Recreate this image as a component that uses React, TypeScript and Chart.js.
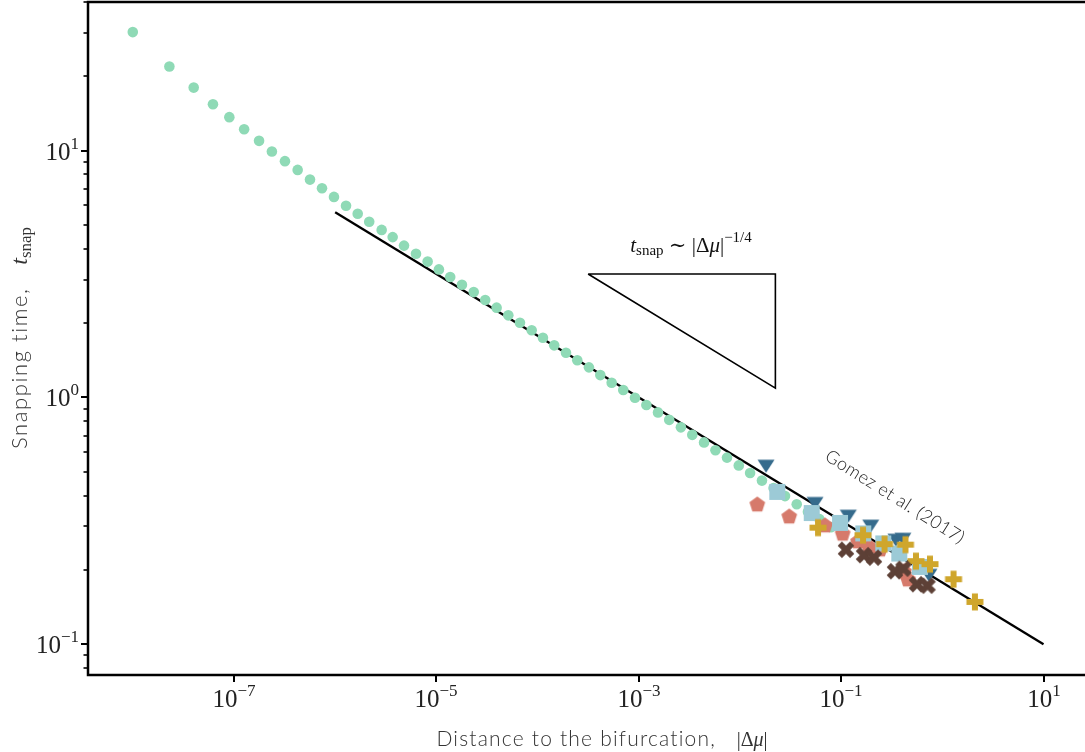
import React, { useEffect, useRef } from "react";
import { Chart, registerables } from "chart.js";
Chart.register(...registerables);

// ---- data ----
const greenX = [1.0e-8, 2.3e-8, 4.0e-8, 6.2e-8, 9.0e-8, 1.26e-7, 1.77e-7, 2.37e-7, 3.19e-7, 4.26e-7, 5.64e-7, 7.41e-7, 9.73e-7,
  1.28e-6, 1.67e-6, 2.17e-6, 2.88e-6, 3.70e-6, 4.79e-6, 6.29e-6, 8.20e-6, 1.06e-5, 1.37e-5, 1.79e-5, 2.34e-5, 3.04e-5, 3.94e-5,
  5.14e-5, 6.70e-5, 8.75e-5, 1.13e-4, 1.46e-4, 1.91e-4, 2.47e-4, 3.22e-4, 4.17e-4, 5.40e-4, 7.03e-4, 9.18e-4, 1.19e-3, 1.55e-3,
  2.00e-3, 2.61e-3, 3.38e-3, 4.42e-3, 5.73e-3, 7.45e-3, 9.74e-3, 1.26e-2, 1.65e-2, 2.15e-2, 2.79e-2, 3.64e-2, 4.70e-2, 6.11e-2, 7.94e-2];
const greenY = [30.2, 21.9, 18.0, 15.4, 13.66, 12.21, 10.95, 9.91, 9.06, 8.35, 7.63, 7.04, 6.49,
  5.98, 5.55, 5.15, 4.77, 4.46, 4.12, 3.82, 3.55, 3.30, 3.075, 2.86, 2.67, 2.48, 2.31,
  2.15, 2.007, 1.87, 1.745, 1.625, 1.517, 1.413, 1.323, 1.231, 1.146, 1.071, 0.996, 0.931, 0.869,
  0.811, 0.756, 0.705, 0.657, 0.611, 0.570, 0.530, 0.494, 0.460, 0.429, 0.398, 0.369, 0.344, 0.321, 0.298];

const triX = [0.0181, 0.0552, 0.1177, 0.196, 0.348, 0.408, 0.738];
const triY = [0.526, 0.3716, 0.330, 0.3007, 0.2638, 0.266, 0.190];

const sqX = [0.0234, 0.0512, 0.0975, 0.1656, 0.261, 0.3757, 0.6015];
const sqY = [0.414, 0.340, 0.310, 0.281, 0.256, 0.233, 0.2056];

const pentX = [0.01484, 0.0307, 0.0693, 0.1036, 0.1468, 0.1885, 0.2421, 0.418, 0.458];
const pentY = [0.369, 0.330, 0.3035, 0.281, 0.2615, 0.2494, 0.2425, 0.1975, 0.1833];

const plusX = [0.0591, 0.1645, 0.2683, 0.4325, 0.549, 0.755, 1.29, 2.10];
const plusY = [0.2965, 0.2764, 0.2542, 0.253, 0.2169, 0.2109, 0.1833, 0.1483];

const xMarkX = [0.1117, 0.1683, 0.2112, 0.3405, 0.4133, 0.562, 0.714];
const xMarkY = [0.2414, 0.2294, 0.2241, 0.1975, 0.2022, 0.1749, 0.1725];

const fitX = [1e-6, 10];
const fitY = [5.62, 0.1];

const slopeX = [3.16e-4, 2.24e-2, 2.24e-2, 3.16e-4];
const slopeY = [3.16, 3.16, 1.09, 3.16];

const xTickExps = [-7, -5, -3, -1, 1];
const yTickExps = [-1, 0, 1];
const yMinorDecades = [-2, -1, 0, 1];
const yMinorMults = [2, 3, 4, 5, 6, 7, 8, 9];

const X_MIN = 3.61e-9;
const X_MAX = 25.7;
const Y_MIN = 0.075;
const Y_MAX = 40;

const GREEN = "#8fdab6";
const TRI = "#356b8c";
const SQ = "#9ccad6";
const PENT = "#d67a6b";
const PLUS = "#cfa62c";
const XCOL = "#5d4036";

const SANS = "Lato, 'Open Sans', sans-serif";
const SERIF = "'Liberation Serif', 'DejaVu Serif', serif";

function pts(xs: number[], ys: number[]) {
  return xs.map((x, i) => ({ x, y: ys[i] }));
}

function makeMarker(kind: string, color: string): HTMLCanvasElement {
  const S = 22;
  const c = document.createElement("canvas");
  c.width = S;
  c.height = S;
  const g = c.getContext("2d")!;
  g.fillStyle = color;
  g.strokeStyle = color;
  const cx = S / 2, cy = S / 2;
  g.beginPath();
  if (kind === "tri") {
    g.moveTo(cx - 8.5, cy - 6.5);
    g.lineTo(cx + 8.5, cy - 6.5);
    g.lineTo(cx, cy + 6.5);
    g.closePath();
    g.fill();
  } else if (kind === "sq") {
    g.rect(cx - 8, cy - 8, 16, 16);
    g.fill();
  } else if (kind === "pent") {
    const r = 8.3;
    for (let i = 0; i < 5; i++) {
      const a = -Math.PI / 2 + (i * 2 * Math.PI) / 5;
      const px = cx + r * Math.cos(a), py = cy + 0.6 + r * Math.sin(a);
      if (i === 0) g.moveTo(px, py); else g.lineTo(px, py);
    }
    g.closePath();
    g.fill();
  } else if (kind === "plus") {
    const a = 8.5, t = 3;
    const poly = [[-t, -a], [t, -a], [t, -t], [a, -t], [a, t], [t, t], [t, a], [-t, a], [-t, t], [-a, t], [-a, -t], [-t, -t]];
    poly.forEach(([px, py], i) => (i === 0 ? g.moveTo(cx + px, cy + py) : g.lineTo(cx + px, cy + py)));
    g.closePath();
    g.fill();
  } else if (kind === "x") {
    g.lineWidth = 6;
    g.lineCap = "butt";
    g.moveTo(cx - 6.2, cy - 6.2);
    g.lineTo(cx + 6.2, cy + 6.2);
    g.moveTo(cx + 6.2, cy - 6.2);
    g.lineTo(cx - 6.2, cy + 6.2);
    g.stroke();
  }
  return c;
}

type Run = { t: string; font: string; dy?: number; ls?: string };

function runsWidth(ctx: CanvasRenderingContext2D, runs: Run[]) {
  let w = 0;
  for (const r of runs) {
    ctx.font = r.font;
    (ctx as any).letterSpacing = r.ls || "0px";
    w += ctx.measureText(r.t).width;
  }
  (ctx as any).letterSpacing = "0px";
  return w;
}

function drawRuns(ctx: CanvasRenderingContext2D, runs: Run[], x: number, y: number) {
  let cx = x;
  for (const r of runs) {
    ctx.font = r.font;
    (ctx as any).letterSpacing = r.ls || "0px";
    ctx.fillText(r.t, cx, y + (r.dy || 0));
    cx += ctx.measureText(r.t).width;
  }
  (ctx as any).letterSpacing = "0px";
}

function powRuns(e: number): Run[] {
  const s = e < 0 ? "\u2212" + Math.abs(e) : String(e);
  return [
    { t: "10", font: `25px ${SERIF}` },
    { t: s, font: `17px ${SERIF}`, dy: -11 },
  ];
}

const decor = {
  id: "decor",
  afterDraw(chart: any) {
    const ctx: CanvasRenderingContext2D = chart.ctx;
    const ca = chart.chartArea;
    const xs = chart.scales.x;
    const ys = chart.scales.y;
    ctx.save();
    ctx.textAlign = "left";
    ctx.textBaseline = "alphabetic";
    // spines
    ctx.strokeStyle = "#000";
    ctx.lineWidth = 2.5;
    ctx.lineCap = "square";
    ctx.beginPath();
    ctx.moveTo(ca.right + 2, ca.top);
    ctx.lineTo(ca.left, ca.top);
    ctx.lineTo(ca.left, ca.bottom);
    ctx.lineTo(ca.right + 2, ca.bottom);
    ctx.stroke();
    ctx.lineCap = "butt";
    // x ticks
    ctx.fillStyle = "#222";
    for (const e of xTickExps) {
      const px = Math.round(xs.getPixelForValue(Math.pow(10, e)));
      ctx.lineWidth = 2;
      ctx.beginPath();
      ctx.moveTo(px, ca.bottom);
      ctx.lineTo(px, ca.bottom + 7);
      ctx.stroke();
      const runs = powRuns(e);
      const w = runsWidth(ctx, runs);
      drawRuns(ctx, runs, px - w / 2, ca.bottom + 32);
    }
    // y ticks
    for (const d of yMinorDecades) {
      for (const m of yMinorMults) {
        const v = m * Math.pow(10, d);
        if (v < Y_MIN || v > Y_MAX) continue;
        const py = Math.round(ys.getPixelForValue(v));
        ctx.lineWidth = 1.6;
        ctx.beginPath();
        ctx.moveTo(ca.left - 4.5, py);
        ctx.lineTo(ca.left, py);
        ctx.stroke();
      }
    }
    for (const e of yTickExps) {
      const py = Math.round(ys.getPixelForValue(Math.pow(10, e)));
      ctx.lineWidth = 2;
      ctx.beginPath();
      ctx.moveTo(ca.left - 7, py);
      ctx.lineTo(ca.left, py);
      ctx.stroke();
      const runs = powRuns(e);
      const w = runsWidth(ctx, runs);
      drawRuns(ctx, runs, ca.left - 9 - w, py + 9);
    }
    // x title
    ctx.fillStyle = "#333";
    const xt: Run[] = [
      { t: "Distance to the bifurcation,   ", font: `300 21px ${SANS}`, ls: "1.2px" },
      { t: "|\u0394", font: `20px ${SERIF}` },
      { t: "\u03bc", font: `italic 20px ${SERIF}` },
      { t: "|", font: `20px ${SERIF}` },
    ];
    const xw = runsWidth(ctx, xt);
    drawRuns(ctx, xt, 602 - xw / 2, 746);
    // y title
    const yt: Run[] = [
      { t: "Snapping time,   ", font: `300 22px ${SANS}`, ls: "1.6px" },
      { t: "t", font: `italic 24px ${SERIF}` },
      { t: "snap", font: `17px ${SERIF}`, dy: 4 },
    ];
    const yw = runsWidth(ctx, yt);
    ctx.save();
    ctx.translate(27, 338);
    ctx.rotate(-Math.PI / 2);
    drawRuns(ctx, yt, -yw / 2, 0);
    ctx.restore();
    // slope annotation
    ctx.fillStyle = "#111";
    const at: Run[] = [
      { t: "t", font: `italic 21px ${SERIF}` },
      { t: "snap", font: `15px ${SERIF}`, dy: 3 },
      { t: " \u223c ", font: `21px ${SERIF}` },
      { t: "|\u0394", font: `21px ${SERIF}` },
      { t: "\u03bc", font: `italic 21px ${SERIF}` },
      { t: "|", font: `21px ${SERIF}` },
      { t: "\u22121/4", font: `15px ${SERIF}`, dy: -10 },
    ];
    const aw = runsWidth(ctx, at);
    drawRuns(ctx, at, 691 - aw / 2, 252);
    // Gomez label
    ctx.fillStyle = "#222";
    ctx.save();
    ctx.translate(895, 497);
    ctx.rotate((32 * Math.PI) / 180);
    ctx.font = `300 18px ${SANS}`;
    (ctx as any).letterSpacing = "0.4px";
    ctx.textAlign = "center";
    ctx.textBaseline = "middle";
    ctx.fillText("Gomez et al. (2017)", 0, 0);
    ctx.restore();
    ctx.restore();
  },
};

export default function App() {
  const ref = useRef<HTMLCanvasElement>(null);
  useEffect(() => {
    const prevMargin = document.body.style.margin;
    document.body.style.margin = "0";
    const canvas = ref.current!;
    const mTri = makeMarker("tri", TRI);
    const mSq = makeMarker("sq", SQ);
    const mPent = makeMarker("pent", PENT);
    const mPlus = makeMarker("plus", PLUS);
    const mX = makeMarker("x", XCOL);
    const chart = new Chart(canvas, {
      type: "scatter",
      data: {
        datasets: [
          { label: "fit", data: pts(fitX, fitY), showLine: true, borderColor: "#000", borderWidth: 2.3, pointRadius: 0, order: 10 } as any,
          { label: "slope", data: pts(slopeX, slopeY), showLine: true, borderColor: "#000", borderWidth: 1.6, pointRadius: 0, order: 10 } as any,
          { label: "sim", data: pts(greenX, greenY), pointRadius: 5.3, backgroundColor: GREEN, borderWidth: 0, order: 9 },
          { label: "tri", data: pts(triX, triY), pointStyle: mTri, pointRadius: 9, order: 8 } as any,
          { label: "pent", data: pts(pentX, pentY), pointStyle: mPent, pointRadius: 9, order: 7 } as any,
          { label: "sq", data: pts(sqX, sqY), pointStyle: mSq, pointRadius: 9, order: 6 } as any,
          { label: "plus", data: pts(plusX, plusY), pointStyle: mPlus, pointRadius: 9, order: 5 } as any,
          { label: "x", data: pts(xMarkX, xMarkY), pointStyle: mX, pointRadius: 9, order: 4 } as any,
        ],
      },
      options: {
        responsive: false,
        animation: false,
        devicePixelRatio: 1,
        events: [],
        layout: { autoPadding: false, padding: { top: 2, left: 0, right: 0, bottom: 0 } },
        plugins: { legend: { display: false }, tooltip: { enabled: false } },
        scales: {
          x: {
            type: "logarithmic",
            min: X_MIN,
            max: X_MAX,
            bounds: "data",
            grid: { display: false },
            border: { display: false },
            ticks: { display: false },
            afterFit: (s: any) => { s.height = 77; },
          },
          y: {
            type: "logarithmic",
            min: Y_MIN,
            max: Y_MAX,
            bounds: "data",
            grid: { display: false },
            border: { display: false },
            ticks: { display: false },
            afterFit: (s: any) => { s.width = 88; },
          },
        },
      } as any,
      plugins: [decor],
    });
    return () => {
      chart.destroy();
      document.body.style.margin = prevMargin;
    };
  }, []);
  return (
    <div style={{ position: "absolute", left: 0, top: 0, width: 1085, height: 752, background: "#fff" }}>
      <canvas ref={ref} width={1085} height={752} style={{ display: "block" }} />
    </div>
  );
}
